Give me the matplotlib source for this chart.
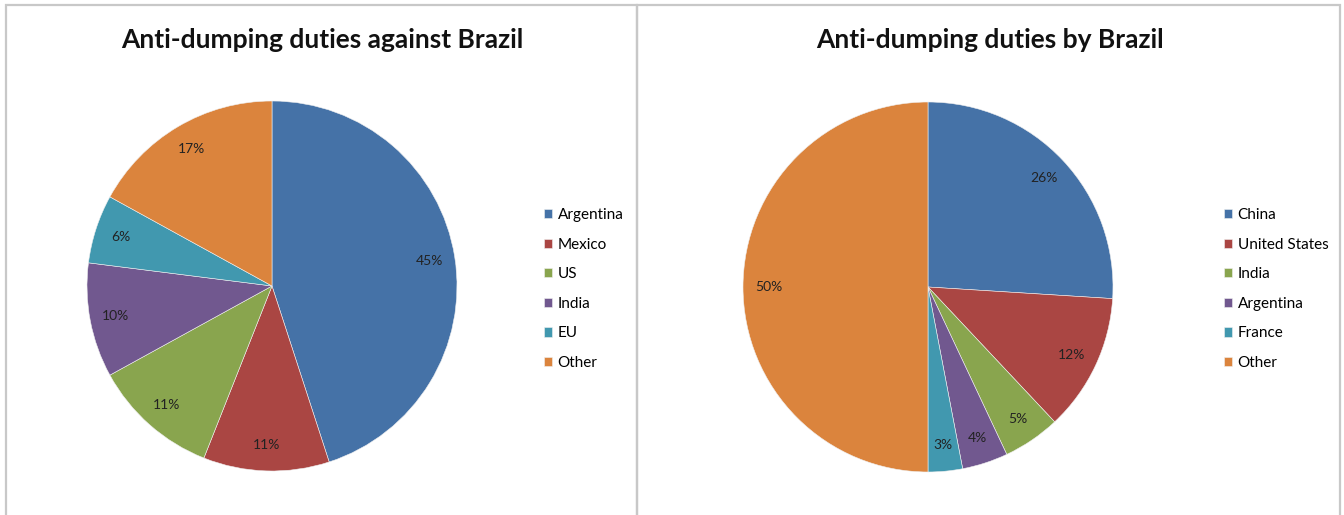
import matplotlib.pyplot as plt
import matplotlib.patches as patch

# Anti-dumping duties against Brazil
against_labels = ['Argentina', 'Mexico', 'US', 'India', 'EU', 'Other']
against_values = [45, 11, 11, 10, 6, 17]

# Anti-dumping duties by Brazil
by_labels = ['China', 'United States', 'India', 'Argentina', 'France', 'Other']
by_values = [26, 12, 5, 4, 3, 50]

colors = ['#4572A7', '#AA4643', '#89A54E', '#71588F', '#4198AF', '#DB843D']

W, H = 1344, 515
fig = plt.figure(figsize=(W / 100, H / 100), dpi=100)
plt.rcParams['font.family'] = ['Lato', 'DejaVu Sans']


def px_axes(x, y, w, h):
    # pixel box measured from top-left
    return fig.add_axes([x / W, (H - y - h) / H, w / W, h / H])


# panel borders
for x0, x1 in [(6, 637), (637, 1340)]:
    fig.add_artist(patch.Rectangle((x0 / W, -0.05), (x1 - x0) / W, (H - 5) / H + 0.05,
                                   transform=fig.transFigure, fill=False,
                                   edgecolor='#c8c8c8', linewidth=1.6))


def draw_pie(cx, cy, r, values, labels, title, tx, lx):
    ax = px_axes(cx - r, cy - r, 2 * r, 2 * r)
    wedges, _, autotexts = ax.pie(values, colors=colors, startangle=90, counterclock=False,
                                  autopct='%d%%', pctdistance=0.86, radius=1,
                                  wedgeprops=dict(linewidth=0.4, edgecolor='#f0f0f0'),
                                  textprops=dict(fontsize=10, color='#222222'))
    ax.set_xlim(-1, 1)
    ax.set_ylim(-1, 1)
    ax.set_aspect('equal')
    ax.axis('off')
    fig.text(tx / W, 1 - 40 / H, title, ha='center', va='center',
             fontsize=19, fontweight='bold', color='#111111')
    fig.legend(wedges, labels, loc='upper left', bbox_to_anchor=(lx / W, 1 - 208 / H),
               frameon=False, fontsize=11, handlelength=0.55, handleheight=0.55,
               handletextpad=0.35, labelspacing=1.02, borderpad=0, borderaxespad=0)


draw_pie(272, 286, 185, against_values, against_labels,
         'Anti-dumping duties against Brazil', 322, 544)
draw_pie(928, 287, 185, by_values, by_labels,
         'Anti-dumping duties by Brazil', 990, 1224)

fig.savefig('out.png', dpi=100, facecolor='white')
